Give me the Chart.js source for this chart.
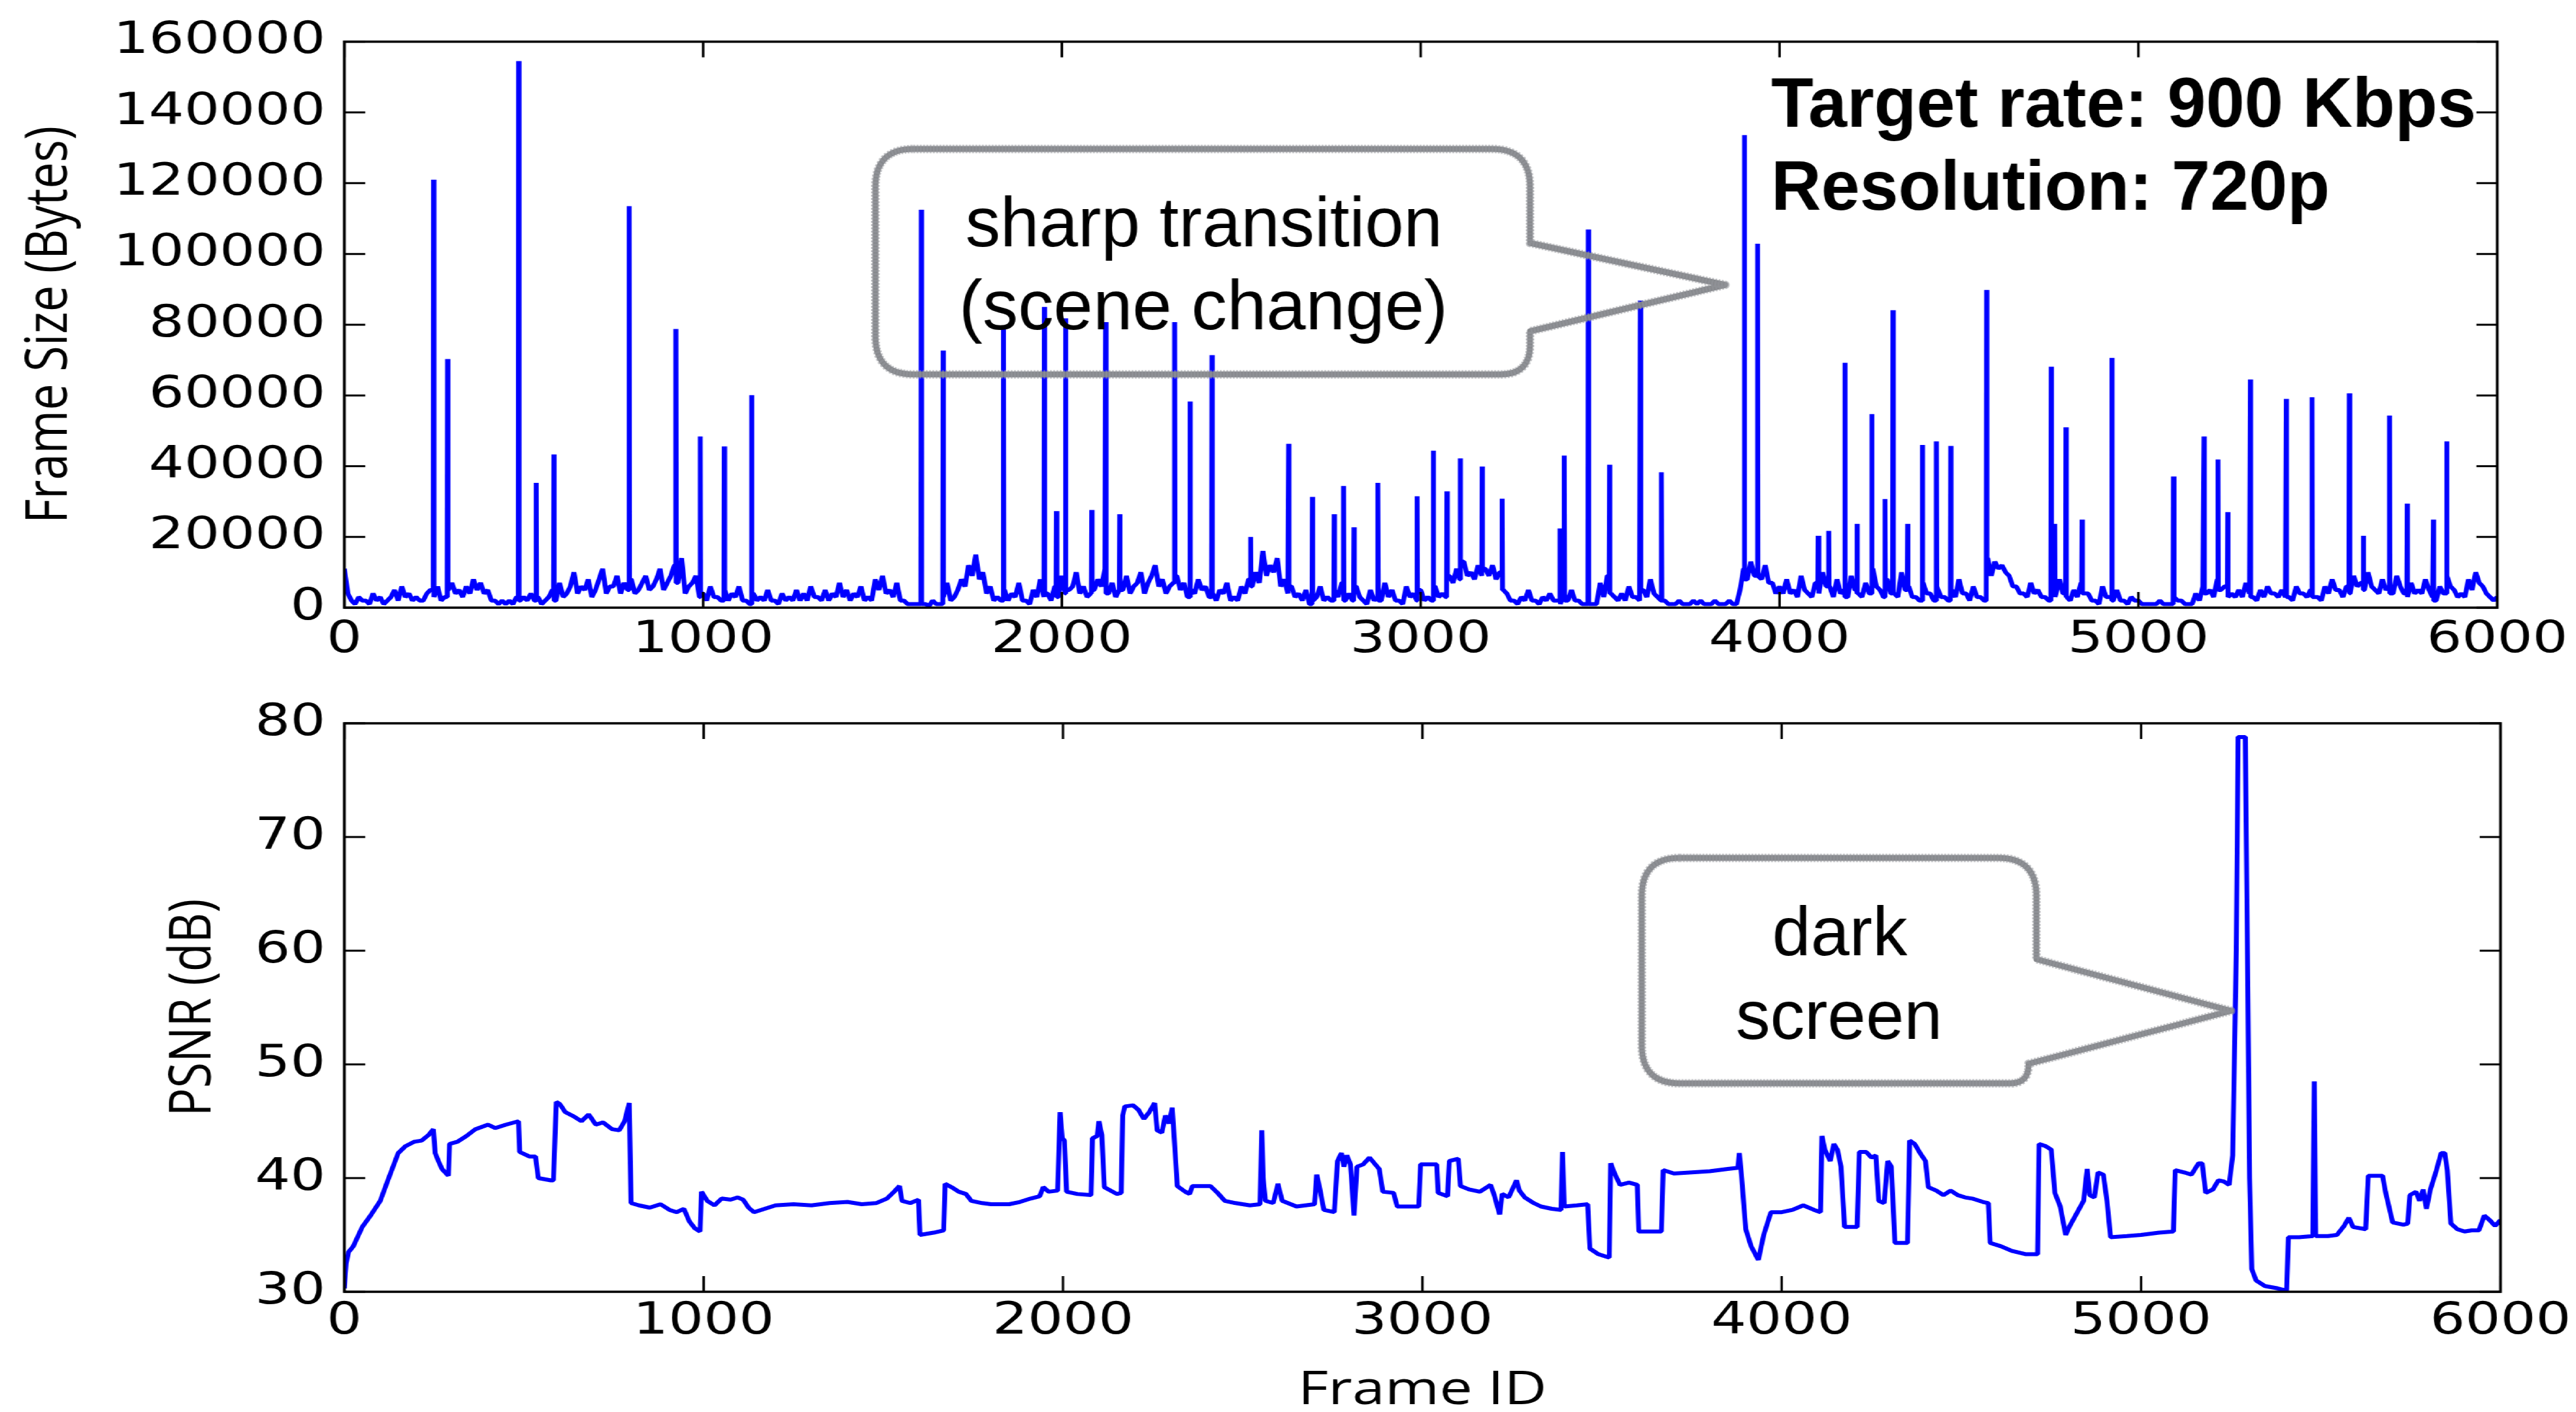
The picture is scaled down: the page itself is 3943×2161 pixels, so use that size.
<!DOCTYPE html>
<html>
<head>
<meta charset="utf-8">
<script src="https://cdn.jsdelivr.net/npm/chart.js@4.4.1/dist/chart.umd.min.js"></script>
<style>
html,body{margin:0;padding:0;background:#fff;overflow:hidden;width:3943px;height:2161px;}
#wrap{position:absolute;left:0;top:0;width:3155px;height:2161px;transform-origin:0 0;transform:scaleX(1.24976);}
#c1{position:absolute;left:0;top:0;}
#c2{position:absolute;left:0;top:1040px;}
</style>
</head>
<body>
<div id="wrap">
<canvas id="c1" width="3155" height="1010"></canvas>
<canvas id="c2" width="3155" height="1121"></canvas>
</div>
<script>
// ---------------- data ----------------
const xTickValues = [0, 1000, 2000, 3000, 4000, 5000, 6000];
const sizeTickValues = [0, 20000, 40000, 60000, 80000, 100000, 120000, 140000, 160000];
const psnrTickValues = [30, 40, 50, 60, 70, 80];

// background frame size (kB), read every 20 frames (frames 0, 20, ..., 6000)
const baseStep = 20;
const baseKB = [
 11, 2, 3, 2, 4, 3, 2, 5, 6, 4,
 3, 2, 5, 6, 3, 7, 5, 6, 8, 7,
 5, 2, 2, 2, 3, 3, 4, 3, 2, 5,
 7, 4, 10, 6, 8, 5, 11, 6, 9, 7,
 8, 5, 9, 6, 11, 7, 12, 14, 6, 9,
 4, 6, 3, 5, 4, 6, 2, 4, 3, 5,
 2, 4, 3, 5, 4, 6, 3, 5, 4, 7,
 5, 4, 6, 3, 8, 9, 5, 7, 2, 1,
 1, 1, 2, 1, 7, 3, 8, 12, 15, 10,
 6, 3, 5, 4, 7, 2, 5, 8, 4, 6,
 9, 5, 10, 6, 4, 8, 11, 7, 5, 9,
 6, 10, 7, 12, 8, 6, 9, 7, 5, 8,
 6, 4, 5, 7, 3, 6, 8, 10, 16, 12,
 14, 8, 6, 4, 5, 2, 6, 3, 5, 7,
 4, 6, 2, 5, 3, 7, 5, 2, 6, 4,
 5, 3, 6, 4, 9, 11, 13, 10, 12, 11,
 12, 10, 4, 2, 3, 5, 2, 3, 4, 2,
 4, 5, 2, 1, 1, 7, 9, 3, 4, 6,
 3, 5, 8, 3, 2, 1, 2, 1, 2, 2,
 1, 2, 1, 2, 1, 11, 13, 9, 12, 7,
 6, 8, 5, 9, 4, 7, 10, 6, 8, 5,
 9, 4, 7, 11, 5, 8, 4, 10, 6, 3,
 7, 4, 6, 3, 5, 8, 4, 6, 3, 14,
 13, 12, 9, 6, 4, 7, 5, 3, 6, 8,
 3, 5, 7, 4, 2, 6, 3, 5, 2, 3,
 2, 1, 1, 2, 1, 3, 2, 1, 4, 6,
 5, 8, 6, 4, 5, 7, 3, 5, 6, 4,
 5, 3, 6, 4, 5, 3, 6, 8, 5, 6,
 9, 7, 10, 5, 8, 6, 9, 4, 7, 5,
 8, 3, 6, 9, 5, 4, 8, 10, 6, 3,
 3
];
// background frame size (kB) in between, read at frames 10, 30, ..., 5990
const baseMidKB = [
 4, 1, 2, 1, 2, 1, 3, 2, 3, 2,
 2, 4, 3, 2, 5, 4, 3, 4, 5, 4,
 2, 1, 1, 1, 2, 2, 2, 1, 3, 2,
 3, 6, 4, 5, 3, 8, 4, 6, 4, 5,
 4, 7, 5, 8, 5, 9, 7, 4, 7, 3,
 2, 3, 2, 2, 3, 2, 1, 2, 2, 2,
 1, 2, 2, 2, 2, 3, 2, 2, 3, 3,
 2, 3, 2, 2, 5, 4, 3, 2, 1, 1,
 1, 0.5, 1, 3, 2, 5, 6, 9, 8, 4,
 2, 2, 2, 3, 2, 1, 3, 3, 2, 3,
 4, 6, 4, 3, 5, 6, 4, 3, 5, 4,
 7, 4, 9, 6, 4, 7, 5, 3, 4, 5,
 3, 2, 4, 2, 2, 4, 6, 7, 9, 10,
 6, 4, 3, 2, 1, 3, 2, 2, 3, 2,
 2, 3, 1, 2, 2, 3, 2, 1, 3, 2,
 2, 2, 3, 3, 7, 8, 9, 8, 9, 9,
 8, 5, 2, 1, 2, 2, 1, 2, 2, 1,
 2, 2, 1, 1, 1, 3, 4, 2, 2, 3,
 2, 3, 4, 2, 1, 1, 1, 1, 1, 1,
 1, 1, 1, 1, 5, 8, 9, 8, 7, 4,
 4, 4, 3, 5, 3, 4, 6, 3, 4, 3,
 5, 3, 4, 6, 3, 4, 3, 5, 3, 2,
 4, 2, 3, 2, 3, 4, 2, 3, 2, 9,
 11, 10, 6, 4, 3, 4, 3, 2, 3, 4,
 2, 3, 4, 2, 1, 3, 2, 2, 1, 2,
 1, 1, 1, 1, 1, 2, 1, 1, 2, 4,
 3, 5, 3, 3, 3, 4, 2, 3, 4, 3,
 3, 2, 4, 3, 3, 2, 4, 5, 3, 4,
 6, 5, 6, 4, 5, 4, 6, 3, 4, 4,
 5, 2, 4, 6, 3, 3, 5, 7, 4, 2
];

// large frames (scene changes / I-frames)
const spikeFrames = [249, 288, 486, 535, 584, 794, 924, 992, 1059, 1135,
  1608, 1669, 1837, 1951, 1985, 2010, 2083, 2122, 2161, 2314,
  2357, 2418, 2526, 2632, 2698, 2759, 2785, 2814, 2881, 2990,
  3035, 3073, 3110, 3171, 3227, 3388, 3400, 3467, 3526, 3612,
  3671, 3902, 3939, 4108, 4137, 4182, 4216, 4257, 4294, 4316,
  4357, 4398, 4437, 4477, 4577, 4757, 4767, 4798, 4843, 4926,
  5098, 5183, 5222, 5249, 5312, 5412, 5484, 5588, 5627, 5700,
  5749, 5822, 5859];
const spikeBytes = [121000, 70300, 154500, 35300, 43300, 113500, 78800, 48400, 45600, 60100,
  112500, 72700, 79000, 85000, 27300, 81800, 27600, 80700, 26400, 80700,
  58300, 71400, 20000, 46300, 31300, 26400, 34400, 22700, 35300, 31500,
  44400, 32900, 42200, 39900, 30800, 22400, 43000, 106900, 40400, 86800,
  38300, 133600, 102900, 20300, 21700, 69200, 23700, 54700, 30700, 84100,
  23700, 46000, 47000, 45700, 89800, 68100, 23700, 51000, 24900, 70600,
  37100, 48400, 41900, 27000, 64500, 59000, 59500, 60600, 20300, 54300,
  29400, 24900, 47000];

const psnrFrames = [0, 5, 12, 25, 50, 75, 100, 120, 150, 170,
  195, 215, 235, 248, 253, 262, 272, 290, 293, 315,
  340, 365, 400, 420, 450, 485, 488, 515, 532, 540,
  575, 582, 590, 600, 615, 640, 660, 680, 700, 720,
  745, 765, 780, 793, 798, 820, 850, 880, 905, 925,
  945, 960, 975, 990, 994, 1010, 1030, 1050, 1075, 1095,
  1110, 1125, 1140, 1170, 1200, 1250, 1300, 1350, 1400, 1440,
  1480, 1510, 1530, 1545, 1552, 1575, 1598, 1602, 1640, 1668,
  1672, 1690, 1710, 1730, 1745, 1775, 1800, 1850, 1880, 1910,
  1935, 1945, 1960, 1985, 1992, 1998, 2004, 2010, 2040, 2078,
  2082, 2095, 2100, 2108, 2115, 2150, 2162, 2166, 2172, 2195,
  2210, 2225, 2240, 2255, 2262, 2275, 2285, 2295, 2304, 2318,
  2340, 2352, 2360, 2410, 2430, 2450, 2480, 2520, 2548, 2553,
  2557, 2563, 2585, 2598, 2610, 2650, 2700, 2706, 2712, 2726,
  2755, 2764, 2775, 2782, 2790, 2800, 2810, 2818, 2835, 2853,
  2880, 2890, 2920, 2930, 2960, 2990, 2995, 3040, 3044, 3070,
  3075, 3100, 3106, 3130, 3160, 3190, 3200, 3215, 3222, 3240,
  3262, 3270, 3285, 3310, 3330, 3360, 3386, 3390, 3395, 3430,
  3460, 3466, 3490, 3520, 3524, 3535, 3550, 3575, 3598, 3602,
  3640, 3665, 3670, 3700, 3750, 3800, 3850, 3878, 3882, 3888,
  3900, 3915, 3935, 3950, 3970, 4000, 4030, 4060, 4090, 4108,
  4112, 4120, 4135, 4145, 4155, 4165, 4175, 4210, 4216, 4235,
  4250, 4262, 4270, 4285, 4295, 4305, 4315, 4350, 4356, 4370,
  4385, 4400, 4408, 4430, 4450, 4470, 4490, 4510, 4530, 4560,
  4575, 4580, 4610, 4640, 4680, 4712, 4716, 4735, 4750, 4760,
  4775, 4790, 4800, 4840, 4850, 4857, 4870, 4880, 4895, 4905,
  4915, 4960, 5000, 5050, 5090, 5095, 5120, 5140, 5160, 5170,
  5180, 5200, 5215, 5230, 5245, 5255, 5265, 5270, 5290, 5296,
  5302, 5308, 5320, 5345, 5380, 5405, 5410, 5440, 5478, 5482,
  5486, 5520, 5545, 5565, 5578, 5590, 5625, 5632, 5655, 5672,
  5680, 5700, 5730, 5742, 5748, 5765, 5775, 5785, 5794, 5805,
  5820, 5835, 5845, 5852, 5862, 5880, 5900, 5920, 5940, 5955,
  5970, 5985, 6000];
const psnrDb = [30.3, 32.5, 33.5, 34.0, 35.7, 36.8, 38.0, 39.7, 42.2, 42.8,
  43.2, 43.3, 43.8, 44.3, 42.2, 41.5, 40.8, 40.2, 43.0, 43.2,
  43.7, 44.3, 44.7, 44.4, 44.7, 45.0, 42.3, 41.9, 41.9, 40.0,
  39.8, 39.8, 46.7, 46.5, 45.8, 45.4, 45.0, 45.6, 44.7, 44.9,
  44.3, 44.2, 45.0, 46.6, 37.8, 37.6, 37.4, 37.7, 37.2, 37.0,
  37.3, 36.2, 35.6, 35.3, 38.8, 38.0, 37.6, 38.2, 38.1, 38.3,
  38.1, 37.4, 37.0, 37.3, 37.6, 37.7, 37.6, 37.8, 37.9, 37.7,
  37.8, 38.2, 38.8, 39.3, 38.0, 37.8, 38.1, 35.0, 35.2, 35.4,
  39.5, 39.2, 38.8, 38.6, 38.0, 37.8, 37.7, 37.7, 37.9, 38.2,
  38.4, 39.2, 38.8, 38.9, 45.8, 43.5, 43.3, 38.8, 38.6, 38.5,
  43.5, 43.7, 45.0, 43.8, 39.2, 38.6, 38.7, 45.5, 46.3, 46.4,
  46.0, 45.2, 45.8, 46.6, 44.2, 44.0, 45.5, 44.8, 46.2, 39.3,
  38.8, 38.6, 39.3, 39.3, 38.7, 38.0, 37.8, 37.6, 37.7, 44.2,
  40.0, 38.0, 37.8, 39.5, 38.0, 37.5, 37.7, 40.3, 39.5, 37.2,
  37.0, 41.5, 42.2, 41.0, 42.0, 41.2, 36.7, 41.0, 41.2, 41.8,
  40.8, 38.8, 38.7, 37.5, 37.5, 37.5, 41.2, 41.2, 38.7, 38.4,
  41.5, 41.7, 39.3, 39.0, 38.8, 39.4, 38.5, 36.8, 38.6, 38.3,
  39.8, 38.9, 38.3, 37.8, 37.5, 37.3, 37.2, 42.3, 37.5, 37.6,
  37.7, 33.8, 33.3, 33.0, 41.3, 40.4, 39.4, 39.6, 39.4, 35.3,
  35.3, 35.3, 40.7, 40.4, 40.5, 40.6, 40.8, 40.9, 42.2, 40.3,
  35.5, 34.0, 32.8, 35.0, 37.0, 37.0, 37.2, 37.6, 37.2, 37.0,
  43.7, 42.5, 41.5, 43.0, 42.5, 41.0, 35.7, 35.7, 42.3, 42.3,
  41.8, 42.0, 38.0, 37.8, 41.5, 41.0, 34.3, 34.3, 43.3, 43.0,
  42.2, 41.5, 39.2, 38.9, 38.5, 38.9, 38.5, 38.3, 38.2, 37.9,
  37.8, 34.3, 34.0, 33.6, 33.3, 33.3, 43.0, 42.8, 42.5, 38.7,
  37.5, 35.0, 35.7, 38.0, 40.8, 38.5, 38.3, 40.5, 40.3, 38.0,
  34.8, 34.9, 35.0, 35.2, 35.3, 40.7, 40.5, 40.3, 41.3, 41.3,
  38.7, 39.0, 39.8, 39.7, 39.4, 42.0, 60.0, 78.8, 78.8, 60.0,
  40.0, 32.0, 31.0, 30.5, 30.3, 30.1, 34.8, 34.8, 34.9, 48.5,
  34.9, 34.9, 35.0, 35.8, 36.5, 35.7, 35.5, 40.2, 40.2, 40.2,
  38.8, 36.1, 35.9, 36.0, 38.5, 38.8, 38.0, 39.0, 37.3, 39.0,
  40.5, 42.2, 42.2, 40.7, 36.0, 35.5, 35.3, 35.4, 35.4, 36.7,
  36.3, 35.8, 36.3];

const annotationTexts = {
  rate: 'Target rate: 900 Kbps',
  res: 'Resolution: 720p',
  scene: ['sharp transition', '(scene change)'],
  dark: ['dark', 'screen']
};

// ---------------- build datasets ----------------
const bgPoints = [];
baseKB.forEach((v, i) => {
  bgPoints.push({x: i * baseStep, y: v * 1000});
  if (i < baseMidKB.length) bgPoints.push({x: i * baseStep + baseStep / 2, y: baseMidKB[i] * 1000});
});
const sizePoints = bgPoints.slice();
spikeFrames.forEach((f, k) => {
  let i = 0;
  while (i < bgPoints.length - 2 && bgPoints[i + 1].x <= f) i++;
  sizePoints.push({x: f - 1, y: bgPoints[i].y});
  sizePoints.push({x: f, y: spikeBytes[k]});
  sizePoints.push({x: f + 1, y: bgPoints[i + 1].y});
});
sizePoints.sort((a, b) => a.x - b.x);
const psnrPoints = psnrFrames.map((f, i) => ({x: f, y: psnrDb[i]}));

// ---------------- layout constants ----------------
const S = 3943 / 3155;             // horizontal stretch of the wrapper
const PLOT_LEFT = 527 / S;
const RIGHT_PAD = 3155 - 3834 / S;
const TICK_FONT = {family: '"DejaVu Sans", sans-serif', size: 68};
const TITLE_FONT = {family: '"Open Sans", sans-serif', size: 72, lineHeight: 0.9};

const framePlugin = {
  id: 'frame',
  afterDatasetsDraw(chart) {
    const {ctx, chartArea: a, scales: {x, y}} = chart;
    ctx.save();
    ctx.strokeStyle = '#000';
    ctx.lineWidth = 3;
    ctx.beginPath();
    x.ticks.forEach(t => {
      const px = x.getPixelForValue(t.value);
      ctx.moveTo(px, a.top); ctx.lineTo(px, a.top + 24);
      ctx.moveTo(px, a.bottom); ctx.lineTo(px, a.bottom - 24);
    });
    y.ticks.forEach(t => {
      const py = y.getPixelForValue(t.value);
      ctx.moveTo(a.left, py); ctx.lineTo(a.left + 25.6, py);
      ctx.moveTo(a.right, py); ctx.lineTo(a.right - 25.6, py);
    });
    ctx.stroke();
    ctx.lineWidth = 3.5;
    ctx.strokeRect(a.left, a.top, a.right - a.left, a.bottom - a.top);
    ctx.restore();
  }
};

function fitText(ctx, text, cx, baseline, font, targetW, align) {
  ctx.font = font;
  const w = ctx.measureText(text).width;
  const k = targetW ? targetW / w : 1;
  ctx.save();
  ctx.translate(cx, baseline);
  ctx.scale(k, 1);
  ctx.textAlign = align || 'center';
  ctx.textBaseline = 'alphabetic';
  ctx.fillStyle = '#000';
  ctx.fillText(text, 0, 0);
  ctx.restore();
}

function bubble(ctx, b, dy) {
  const L = b.L, R = b.R, T = b.T - dy, B = b.B - dy, r = b.r, rb = b.rb;
  ctx.beginPath();
  ctx.moveTo(L + r, T);
  ctx.lineTo(R - r, T);
  ctx.quadraticCurveTo(R, T, R, T + r);
  ctx.lineTo(R, b.n1 - dy);
  ctx.lineTo(b.tipX, b.tipY - dy);
  ctx.lineTo(b.nbx, b.nby - dy);
  ctx.lineTo(b.nbx, B - rb);
  ctx.quadraticCurveTo(b.nbx, B, b.nbx - rb, B);
  ctx.lineTo(L + r, B);
  ctx.quadraticCurveTo(L, B, L, B - r);
  ctx.lineTo(L, T + r);
  ctx.quadraticCurveTo(L, T, L + r, T);
  ctx.closePath();
  ctx.save();
  ctx.lineJoin = 'round';
  ctx.strokeStyle = 'rgba(128,130,134,0.95)';
  ctx.lineWidth = 9;
  ctx.stroke();
  ctx.strokeStyle = 'rgba(150,152,156,0.6)';
  ctx.lineWidth = 13;
  ctx.setLineDash([3, 2]);
  ctx.stroke();
  ctx.restore();
}

const topNotes = {
  id: 'topNotes',
  afterDraw(chart) {
    const ctx = chart.ctx;
    ctx.save();
    ctx.scale(1 / S, 1);
    bubble(ctx, {L: 1340, R: 2342, T: 228, B: 573, r: 58, rb: 45, n1: 372, tipX: 2641, tipY: 436, nbx: 2342, nby: 507}, 0);
    fitText(ctx, annotationTexts.scene[0], 1843, 377, '108px "Liberation Sans", Arial, sans-serif', 730);
    fitText(ctx, annotationTexts.scene[1], 1842, 504, '108px "Liberation Sans", Arial, sans-serif', 748);
    fitText(ctx, annotationTexts.rate, 2711, 194, 'bold 108px "Liberation Sans", Arial, sans-serif', 1079, 'left');
    fitText(ctx, annotationTexts.res, 2711, 321, 'bold 108px "Liberation Sans", Arial, sans-serif', 855, 'left');
    ctx.restore();
  }
};

const bottomNotes = {
  id: 'bottomNotes',
  afterDraw(chart) {
    const ctx = chart.ctx;
    ctx.save();
    ctx.scale(1 / S, 1);
    bubble(ctx, {L: 2513, R: 3117, T: 1313, B: 1658, r: 58, rb: 28, n1: 1468, tipX: 3415, tipY: 1547, nbx: 3105, nby: 1628}, 1040);
    fitText(ctx, annotationTexts.dark[0], 2816, 1462 - 1040, '106px "Liberation Sans", Arial, sans-serif', 207);
    fitText(ctx, annotationTexts.dark[1], 2815, 1590 - 1040, '106px "Liberation Sans", Arial, sans-serif', 316);
    ctx.restore();
  }
};

function xScale(padding, height, title) {
  const s = {
    type: 'linear', min: 0, max: 6000,
    afterBuildTicks: sc => { sc.ticks = xTickValues.map(v => ({value: v})); },
    afterFit: sc => { sc.height = height; },
    grid: {display: false, drawTicks: false},
    border: {display: false},
    ticks: {padding: padding, color: '#000', font: TICK_FONT, maxRotation: 0, autoSkip: false, callback: v => String(v)}
  };
  if (title) s.title = {display: true, text: title, color: '#000', font: TITLE_FONT, padding: {top: 0, bottom: 0}};
  return s;
}
function yScale(min, max, ticks, title, titlePad) {
  return {
    type: 'linear', min: min, max: max,
    afterBuildTicks: sc => { sc.ticks = ticks.map(v => ({value: v})); },
    afterFit: sc => { sc.width = PLOT_LEFT; },
    grid: {display: false, drawTicks: false},
    border: {display: false},
    ticks: {padding: 23, color: '#000', font: TICK_FONT, autoSkip: false, callback: v => String(v)},
    title: {display: true, text: title, color: '#000', font: {family: '"Open Sans", sans-serif', size: 72, lineHeight: 1}, padding: {top: titlePad, bottom: 0}}
  };
}

const common = {
  responsive: false, animation: false, devicePixelRatio: 1,
  plugins: {legend: {display: false}, tooltip: {enabled: false}}
};

new Chart(document.getElementById('c1'), {
  type: 'line',
  data: {datasets: [{label: 'Frame Size (Bytes)', data: sizePoints, borderColor: '#0000ff', borderWidth: 6, pointRadius: 0, tension: 0, borderJoinStyle: 'bevel', fill: false}]},
  options: Object.assign({}, common, {
    layout: {padding: {top: 59, right: RIGHT_PAD, bottom: 0, left: 0}},
    scales: {x: xScale(10, 80), y: yScale(0, 160000, sizeTickValues, 'Frame Size (Bytes)', 25)}
  }),
  plugins: [framePlugin, topNotes]
});

new Chart(document.getElementById('c2'), {
  type: 'line',
  data: {datasets: [{label: 'PSNR (dB)', data: psnrPoints, borderColor: '#0000ff', borderWidth: 6, pointRadius: 0, tension: 0, borderJoinStyle: 'bevel', fill: false}]},
  options: Object.assign({}, common, {
    layout: {padding: {top: 67, right: RIGHT_PAD, bottom: 0, left: 0}},
    scales: {x: xScale(6, 184, 'Frame ID'), y: yScale(30, 80, psnrTickValues, 'PSNR (dB)', 201)}
  }),
  plugins: [framePlugin, bottomNotes]
});
</script>
</body>
</html>
